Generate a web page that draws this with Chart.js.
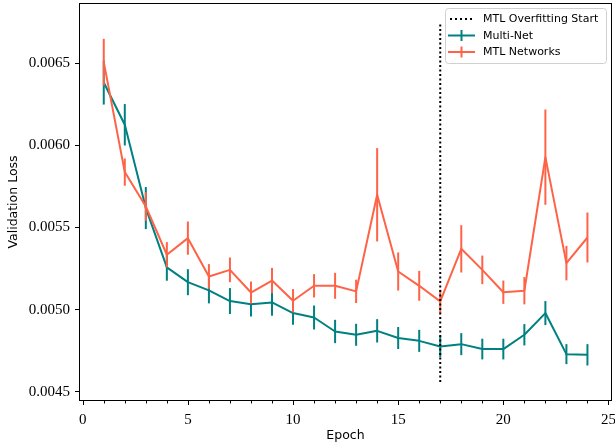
<!DOCTYPE html>
<html>
<head>
<meta charset="utf-8">
<script src="https://cdn.jsdelivr.net/npm/chart.js@4/dist/chart.umd.min.js"></script>
<style>
  html, body { margin: 0; padding: 0; background: #ffffff; }
  #wrap { width: 615px; height: 446px; }
</style>
</head>
<body>
<div id="wrap"><canvas id="c" width="615" height="446"></canvas></div>
<script>
// ---- data ----
const epochs = [1,2,3,4,5,6,7,8,9,10,11,12,13,14,15,16,17,18,19,20,21,22,23,24];
const multiNet = [0.006382, 0.006125, 0.005618, 0.005257, 0.005167, 0.005117, 0.005052, 0.005033,
                  0.005044, 0.004979, 0.004952, 0.004867, 0.004847, 0.004871, 0.004827, 0.004810,
                  0.004776, 0.004790, 0.004760, 0.004760, 0.004847, 0.004979, 0.004729, 0.004725];
const multiNetErr = [0.000134, 0.000126, 0.000128, 0.000081, 0.000079, 0.000079, 0.000079, 0.000075,
                     0.000081, 0.000071, 0.000073, 0.000071, 0.000067, 0.000071, 0.000067, 0.000067,
                     0.000065, 0.000067, 0.000063, 0.000063, 0.000065, 0.000073, 0.000061, 0.000065];
const mtlNetworks = [0.006506, 0.005837, 0.005628, 0.005334, 0.005435, 0.005202, 0.005242, 0.005104,
                     0.005177, 0.005054, 0.005145, 0.005145, 0.005111, 0.005699, 0.005232, 0.005145,
                     0.005050, 0.005370, 0.005242, 0.005106, 0.005115, 0.005928, 0.005283, 0.005439];
const mtlErr = [0.000142, 0.000083, 0.000087, 0.000077, 0.000101, 0.000075, 0.000075, 0.000067,
                0.000077, 0.000071, 0.000071, 0.000079, 0.000071, 0.000284, 0.000116, 0.000091,
                0.000071, 0.000144, 0.000087, 0.000071, 0.000083, 0.000290, 0.000105, 0.000152];
const overfitEpoch = 17;
const overfitRange = [0.00456, 0.00674];
const xTicks = [0,1,2,3,4,5,6,7,8,9,10,11,12,13,14,15,16,17,18,19,20,21,22,23,24,25];
const xMajor = [0,5,10,15,20,25];
const yTicks = [0.0045, 0.0050, 0.0055, 0.0060, 0.0065];
const seriesNames = ['MTL Overfitting Start', 'Multi-Net', 'MTL Networks'];

const TEAL = '#008080';
const TOMATO = '#ff6347';

function pts(ys) { return epochs.map((e, i) => ({x: e, y: ys[i]})); }

// error bars drawn through the chart scales
const errorBarPlugin = {
  id: 'errorBars',
  afterDatasetDraw(chart, args) {
    const ds = chart.data.datasets[args.index];
    if (!ds.errorBars) return;
    const xs = chart.scales.x, ys = chart.scales.y;
    const ctx = chart.ctx;
    ctx.save();
    ctx.beginPath();
    ctx.rect(chart.chartArea.left, chart.chartArea.top, chart.chartArea.width, chart.chartArea.height);
    ctx.clip();
    ctx.strokeStyle = ds.borderColor;
    ctx.lineWidth = 2;
    ctx.lineCap = 'butt';
    ds.data.forEach((p, i) => {
      const e = ds.errorBars[i];
      const px = xs.getPixelForValue(p.x);
      ctx.beginPath();
      ctx.moveTo(px, ys.getPixelForValue(p.y - e));
      ctx.lineTo(px, ys.getPixelForValue(p.y + e));
      ctx.stroke();
    });
    ctx.restore();
  }
};

// frame, x ticks (major/minor) and legend box
const framePlugin = {
  id: 'frame',
  afterDraw(chart) {
    const ctx = chart.ctx;
    const a = chart.chartArea;
    const xs = chart.scales.x;
    ctx.save();
    ctx.strokeStyle = '#000';
    ctx.lineWidth = 1;
    ctx.strokeRect(Math.round(a.left) - 0.5, Math.round(a.top) - 0.5,
                   Math.round(a.right) - Math.round(a.left) + 1, Math.round(a.bottom) - Math.round(a.top) + 1);
    // x ticks
    xTicks.forEach(v => {
      const px = Math.round(xs.getPixelForValue(v)) + 0.5;
      const len = xMajor.includes(v) ? 5 : 3.5;
      ctx.beginPath();
      ctx.moveTo(px, Math.round(a.bottom));
      ctx.lineTo(px, Math.round(a.bottom) + len);
      ctx.stroke();
    });
    // legend
    const bw = 161, bh = 55;
    const bx = a.right - 5 - bw, by = a.top + 4;
    ctx.beginPath();
    if (ctx.roundRect) ctx.roundRect(bx + 0.5, by + 0.5, bw, bh, 3); else ctx.rect(bx + 0.5, by + 0.5, bw, bh);
    ctx.fillStyle = 'rgba(255,255,255,0.85)';
    ctx.fill();
    ctx.strokeStyle = '#d0d0d0';
    ctx.lineWidth = 1;
    ctx.stroke();
    const rows = [by + 11, by + 27.5, by + 44];
    const hx0 = bx + 3, hx1 = bx + 30;
    // dotted handle
    ctx.strokeStyle = '#000';
    ctx.lineWidth = 2;
    ctx.setLineDash([2, 3]);
    ctx.beginPath(); ctx.moveTo(hx0 + 2, rows[0]); ctx.lineTo(hx1, rows[0]); ctx.stroke();
    ctx.setLineDash([]);
    [[TEAL, rows[1]], [TOMATO, rows[2]]].forEach(([c, y]) => {
      ctx.strokeStyle = c;
      ctx.beginPath(); ctx.moveTo(hx0, y); ctx.lineTo(hx1, y); ctx.stroke();
      const cx = (hx0 + hx1) / 2;
      ctx.beginPath(); ctx.moveTo(cx, y - 5.5); ctx.lineTo(cx, y + 5.5); ctx.stroke();
    });
    ctx.fillStyle = '#000';
    ctx.font = '11px "DejaVu Sans"';
    ctx.textBaseline = 'middle';
    ctx.textAlign = 'left';
    seriesNames.forEach((t, i) => ctx.fillText(t, bx + 38, rows[i] + 0.5));
    ctx.restore();
  }
};

new Chart(document.getElementById('c'), {
  type: 'line',
  data: {
    datasets: [
      {
        label: seriesNames[0],
        data: [{x: overfitEpoch, y: overfitRange[0]}, {x: overfitEpoch, y: overfitRange[1]}],
        borderColor: '#000',
        borderWidth: 2,
        borderDash: [2, 2.5],
        pointRadius: 0,
        order: 0
      },
      {
        label: seriesNames[2],
        data: pts(mtlNetworks),
        errorBars: mtlErr,
        borderColor: TOMATO,
        borderWidth: 2,
        borderJoinStyle: 'round',
        pointRadius: 0,
        order: 1
      },
      {
        label: seriesNames[1],
        data: pts(multiNet),
        errorBars: multiNetErr,
        borderColor: TEAL,
        borderWidth: 2,
        borderJoinStyle: 'round',
        pointRadius: 0,
        order: 2
      }
    ]
  },
  options: {
    responsive: false,
    animation: false,
    devicePixelRatio: 1,
    layout: { padding: { left: 0, right: 4, top: 4, bottom: 0 } },
    plugins: { legend: { display: false }, tooltip: { enabled: false } },
    elements: { line: { tension: 0 } },
    scales: {
      x: {
        type: 'linear',
        min: -0.13,
        max: 25.12,
        afterBuildTicks: s => { s.ticks = xTicks.map(v => ({value: v})); },
        afterFit: s => { s.height = 46; s.paddingLeft = 0; s.paddingRight = 0; },
        grid: { display: true, drawOnChartArea: false, drawTicks: false },
        border: { display: false },
        ticks: {
          autoSkip: false,
          maxRotation: 0,
          padding: 11,
          color: '#000',
          font: { family: '"Liberation Serif"', size: 15 },
          callback: v => (xMajor.includes(v) ? String(v) : '')
        },
        title: {
          display: true,
          text: 'Epoch',
          color: '#000',
          font: { family: '"DejaVu Sans"', size: 12.5 },
          padding: { top: 0, bottom: 3 }
        }
      },
      y: {
        type: 'linear',
        min: 0.00445,
        max: 0.00686,
        afterBuildTicks: s => { s.ticks = yTicks.map(v => ({value: v})); },
        afterFit: s => { s.width = 80; s.paddingTop = 0; s.paddingBottom = 0; },
        grid: { display: true, drawOnChartArea: false, drawTicks: true, tickLength: 5, color: '#000', lineWidth: 1 },
        border: { display: false },
        ticks: {
          padding: 5,
          color: '#000',
          font: { family: '"Liberation Serif"', size: 15 },
          callback: v => v.toFixed(4)
        },
        title: {
          display: true,
          text: 'Validation Loss',
          color: '#000',
          font: { family: '"DejaVu Sans"', size: 12.5 },
          padding: { top: 6, bottom: 0 }
        }
      }
    }
  },
  plugins: [errorBarPlugin, framePlugin]
});
</script>
</body>
</html>
